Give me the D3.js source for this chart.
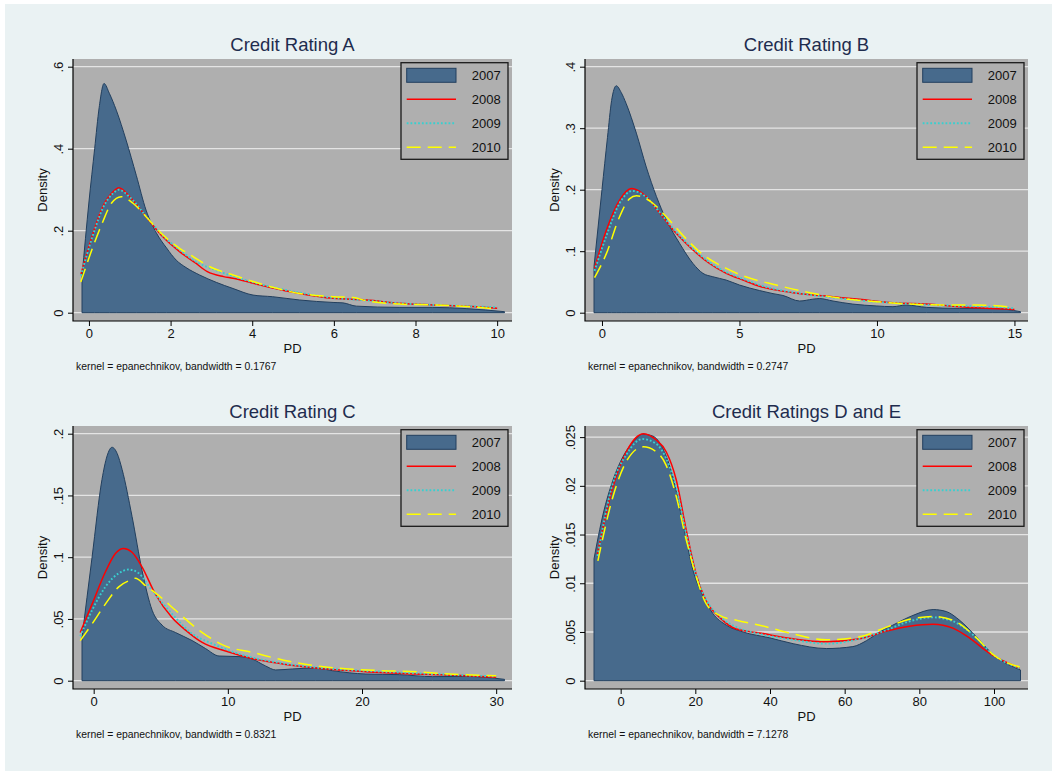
<!DOCTYPE html>
<html>
<head>
<meta charset="utf-8">
<script src="https://cdn.jsdelivr.net/npm/d3@7"></script>
<style>
html, body { margin: 0; padding: 0; background: #fff; }
svg { display: block; }
text { font-family: "Liberation Sans", Arial, Helvetica, sans-serif; }
</style>
</head>
<body>
<div id="chart"></div>
<script>
// Kernel density estimates of PD: [PD, density]
const YEARS = ["2007", "2008", "2009", "2010"];

const TITLES = ["Credit Rating A", "Credit Rating B", "Credit Rating C", "Credit Ratings D and E"];
const NOTES = [
  "kernel = epanechnikov, bandwidth = 0.1767",
  "kernel = epanechnikov, bandwidth = 0.2747",
  "kernel = epanechnikov, bandwidth = 0.8321",
  "kernel = epanechnikov, bandwidth = 7.1278",
];

const X_TICKS_A = [0, 2, 4, 6, 8, 10];
const X_TICKS_B = [0, 5, 10, 15];
const X_TICKS_C = [0, 10, 20, 30];
const X_TICKS_D = [0, 20, 40, 60, 80, 100];

const Y_TICKS_A = [0, 0.2, 0.4, 0.6];
const Y_LABELS_A = ["0", ".2", ".4", ".6"];
const Y_TICKS_B = [0, 0.1, 0.2, 0.3, 0.4];
const Y_LABELS_B = ["0", ".1", ".2", ".3", ".4"];
const Y_TICKS_C = [0, 0.05, 0.1, 0.15, 0.2];
const Y_LABELS_C = ["0", ".05", ".1", ".15", ".2"];
const Y_TICKS_D = [0, 0.005, 0.01, 0.015, 0.02, 0.025];
const Y_LABELS_D = ["0", ".005", ".01", ".015", ".02", ".025"];

const A2007 = [[-0.17,0.088],[0,0.27],[0.14,0.40],[0.25,0.50],[0.37,0.559],[0.5,0.535],[0.67,0.494],[0.91,0.421],[1.16,0.335],[1.4,0.25],[1.65,0.195],[1.9,0.158],[2.14,0.128],[2.38,0.11],[2.71,0.092],[3.12,0.074],[3.53,0.059],[4.02,0.043],[4.5,0.039],[5.16,0.031],[5.98,0.025],[6.22,0.024],[6.55,0.016],[7.6,0.013],[8.42,0.013],[9.24,0.01],[10.18,0.0025]];
const A2008 = [[-0.2,0.092],[0.1,0.194],[0.34,0.259],[0.59,0.295],[0.73,0.305],[1.0,0.283],[1.4,0.234],[1.81,0.185],[2.22,0.149],[2.6,0.122],[2.9,0.1],[3.3,0.088],[3.53,0.084],[4.02,0.072],[4.5,0.06],[5.16,0.047],[5.98,0.035],[6.8,0.031],[7.6,0.023],[8.42,0.019],[9.24,0.016],[10,0.011]];
const A2009 = [[-0.2,0.09],[0.1,0.19],[0.34,0.255],[0.6,0.292],[0.73,0.3],[1.0,0.282],[1.4,0.235],[1.81,0.188],[2.22,0.153],[2.63,0.124],[3.1,0.104],[3.53,0.089],[4.02,0.074],[4.5,0.062],[5.16,0.049],[5.98,0.036],[6.8,0.03],[7.6,0.023],[8.42,0.019],[9.24,0.016],[10,0.013]];
const A2010 = [[-0.2,0.075],[0.1,0.161],[0.34,0.222],[0.55,0.267],[0.79,0.283],[1.08,0.267],[1.4,0.234],[1.81,0.19],[2.22,0.157],[2.55,0.137],[2.96,0.112],[3.53,0.092],[4.02,0.076],[4.5,0.062],[5.16,0.047],[5.98,0.039],[6.47,0.037],[6.8,0.029],[7.6,0.021],[8.42,0.019],[9.24,0.015],[10,0.009]];

const B2007 = [[-0.29,0.075],[0,0.2],[0.2,0.285],[0.35,0.345],[0.52,0.369],[0.7,0.358],[0.88,0.34],[1.25,0.292],[1.61,0.237],[1.98,0.189],[2.34,0.151],[2.82,0.113],[3.31,0.08],[3.67,0.064],[4.03,0.0585],[4.52,0.053],[5.0,0.045],[5.73,0.036],[6.22,0.031],[6.58,0.028],[7.19,0.019],[7.67,0.022],[7.91,0.023],[8.4,0.019],[9.12,0.014],[9.97,0.011],[10.58,0.0098],[11.06,0.0125],[11.8,0.0087],[13,0.007],[14.21,0.007],[15.22,0.0016]];
const B2008 = [[-0.27,0.072],[0.16,0.134],[0.64,0.183],[1.07,0.202],[1.61,0.189],[2.1,0.162],[2.7,0.129],[3.31,0.102],[3.91,0.08],[4.52,0.064],[5.13,0.053],[5.73,0.043],[6.94,0.0325],[8.15,0.027],[9.37,0.0217],[10.58,0.016],[11.8,0.014],[13,0.0098],[15,0.0054]];
const B2009 = [[-0.27,0.068],[0.16,0.125],[0.64,0.178],[1.1,0.198],[1.61,0.188],[2.1,0.163],[2.7,0.131],[3.31,0.104],[3.91,0.082],[4.52,0.066],[5.13,0.055],[5.73,0.045],[6.94,0.033],[8.15,0.026],[9.37,0.02],[10.58,0.016],[11.8,0.013],[13,0.011],[14.2,0.0095],[15,0.007]];
const B2010 = [[-0.27,0.057],[0.16,0.096],[0.64,0.156],[1.0,0.185],[1.25,0.19],[1.85,0.178],[2.34,0.156],[2.94,0.126],[3.55,0.099],[4.52,0.072],[5.13,0.06],[6.34,0.045],[7.55,0.0325],[8.76,0.023],[9.97,0.018],[11.18,0.014],[12.4,0.0125],[13.6,0.0125],[15,0.0087]];

const C2007 = [[-0.87,0.035],[-0.12,0.1],[0.62,0.163],[1.0,0.182],[1.37,0.189],[1.75,0.184],[2.12,0.171],[2.86,0.133],[3.61,0.089],[4.36,0.057],[5.1,0.045],[6.1,0.039],[7.34,0.0325],[8.34,0.026],[9.34,0.02],[10.83,0.0195],[11.8,0.0176],[12.8,0.012],[13.57,0.0087],[14.8,0.0095],[16.55,0.0103],[17.8,0.0081],[20.29,0.0054],[22.78,0.0049],[25.27,0.0033],[27.76,0.0035],[30.62,0.0011]];
const C2008 = [[-1.0,0.039],[-0.12,0.062],[0.87,0.088],[1.62,0.103],[2.24,0.107],[2.86,0.104],[3.61,0.092],[4.6,0.07],[5.85,0.051],[6.85,0.041],[8.09,0.031],[9.83,0.024],[11.8,0.018],[14.07,0.0136],[16.55,0.0103],[20.29,0.0073],[24.02,0.0054],[27.76,0.004],[30,0.0027]];
const C2009 = [[-1.0,0.036],[-0.12,0.057],[0.87,0.076],[1.87,0.087],[2.61,0.09],[3.36,0.087],[4.36,0.073],[5.85,0.054],[7.34,0.038],[8.84,0.03],[10.83,0.0217],[14.07,0.014],[17.8,0.0095],[21.5,0.0073],[25.27,0.0054],[30,0.0035]];
const C2010 = [[-1.0,0.0325],[-0.12,0.046],[0.87,0.062],[1.87,0.076],[2.86,0.082],[3.11,0.083],[3.86,0.077],[4.85,0.069],[6.1,0.057],[7.84,0.041],[9.83,0.028],[11.8,0.023],[14.07,0.0168],[16.55,0.012],[19.04,0.0095],[21.53,0.0081],[24.02,0.0073],[26.51,0.0054],[30,0.004]];

const D2007 = [[-7.14,0.0125],[-4.7,0.0171],[-2.05,0.0206],[0.63,0.023],[3.3,0.0245],[5.98,0.0253],[8.66,0.0251],[11.34,0.0238],[14.0,0.0209],[16.7,0.0161],[19.4,0.0113],[22.05,0.0087],[24.7,0.0069],[28.3,0.0057],[32.8,0.005],[39.9,0.0044],[46.2,0.0038],[55.1,0.0033],[62.2,0.0035],[65.8,0.0041],[69.4,0.005],[72.9,0.0057],[78.3,0.0067],[83.7,0.0073],[87.2,0.0071],[90.8,0.0062],[95.3,0.0045],[99.7,0.0027],[107.1,0.0011]];
const D2008 = [[-6.25,0.013],[-2.05,0.0199],[1.52,0.0235],[6.16,0.02535],[9.55,0.0247],[12.2,0.0235],[14.9,0.0206],[17.6,0.0154],[20.3,0.0108],[22.9,0.0082],[26.5,0.0065],[31,0.0053],[37.2,0.0049],[46.2,0.0043],[55.1,0.004],[64,0.0043],[71.2,0.0051],[77.4,0.0056],[83.7,0.0058],[89,0.0054],[92.6,0.0046],[99.7,0.0026],[106.9,0.0013]];
const D2009 = [[-6.2,0.0128],[-2.05,0.0203],[1.52,0.0232],[5.8,0.0248],[9.55,0.0243],[12.2,0.0228],[14.9,0.0198],[17.6,0.015],[20.3,0.0107],[22.9,0.0083],[26.5,0.0066],[31,0.0055],[37.2,0.0048],[46.2,0.0042],[55.1,0.0038],[64,0.0043],[71.2,0.0052],[77.4,0.0061],[83.7,0.0065],[89,0.0061],[95.3,0.0044],[99.7,0.0027],[106.9,0.0013]];
const D2010 = [[-6.1,0.0123],[-2.05,0.0189],[1.52,0.0225],[6,0.024],[9.55,0.0235],[12.2,0.0221],[14.9,0.0189],[17.6,0.0144],[20.3,0.0106],[22.9,0.0079],[26.5,0.0067],[31,0.0062],[37.2,0.0057],[46.2,0.0048],[55.1,0.0042],[64,0.0045],[71.2,0.0055],[77.4,0.0063],[83.7,0.0066],[89,0.0062],[95.3,0.0044],[99.7,0.0027],[106.9,0.0014]];

const PANELS = [
  { title: TITLES[0], note: NOTES[0], xTicks: X_TICKS_A, yTicks: Y_TICKS_A, yLabels: Y_LABELS_A, series: [A2007, A2008, A2009, A2010] },
  { title: TITLES[1], note: NOTES[1], xTicks: X_TICKS_B, yTicks: Y_TICKS_B, yLabels: Y_LABELS_B, series: [B2007, B2008, B2009, B2010] },
  { title: TITLES[2], note: NOTES[2], xTicks: X_TICKS_C, yTicks: Y_TICKS_C, yLabels: Y_LABELS_C, series: [C2007, C2008, C2009, C2010] },
  { title: TITLES[3], note: NOTES[3], xTicks: X_TICKS_D, yTicks: Y_TICKS_D, yLabels: Y_LABELS_D, series: [D2007, D2008, D2009, D2010] },
];

const FILL_2007 = "#476a8c";
const EDGE_2007 = "#223f5e";
const LINE_STYLE = [
  null,
  { stroke: "#ff0000", dash: null, width: 1.5 },
  { stroke: "#38d0d0", dash: "1.8,2", width: 1.9 },
  { stroke: "#ffff00", dash: "14,7", width: 1.5 },
];

const W = 1052, H = 771;
// plot boxes (Stata plot regions), column/row geometry
const COLS = [{ left: 73, right: 512 }, { left: 585, right: 1028 }];
const ROWS = [{ top: 59, bottom: 321 }, { top: 426, bottom: 689 }];

const svg = d3.select("#chart").append("svg")
  .attr("width", W).attr("height", H)
  .attr("viewBox", `0 0 ${W} ${H}`);

svg.append("rect").attr("x", 5).attr("y", 4).attr("width", W - 5).attr("height", H - 4)
  .attr("fill", "#eaf2f3");

function drawPanel(p, box) {
  const g = svg.append("g");
  const xExt = d3.extent(p.series[0], (d) => d[0]);
  const x = d3.scaleLinear()
    .domain([Math.min(xExt[0], p.xTicks[0]), Math.max(xExt[1], p.xTicks[p.xTicks.length - 1])])
    .range([box.left + 9, box.right - 7.5]);
  const yTop = Math.max(d3.max(p.series.flat(), (d) => d[1]), p.yTicks[p.yTicks.length - 1]);
  const y = d3.scaleLinear().domain([0, yTop]).range([box.bottom - 8.3, box.top + 7.7]);

  g.append("rect")
    .attr("x", box.left).attr("y", box.top)
    .attr("width", box.right - box.left).attr("height", box.bottom - box.top)
    .attr("fill", "#afafaf");

  g.append("g").selectAll("line").data(p.yTicks).join("line")
    .attr("x1", box.left).attr("x2", box.right)
    .attr("y1", (d) => y(d)).attr("y2", (d) => y(d))
    .attr("stroke", "#e4e4e4").attr("stroke-width", 1.3);

  const area = d3.area().x((d) => x(d[0])).y0(y(0)).y1((d) => y(d[1])).curve(d3.curveMonotoneX);
  g.append("path").datum(p.series[0]).attr("d", area)
    .attr("fill", FILL_2007).attr("stroke", EDGE_2007).attr("stroke-width", 1);

  const line = d3.line().x((d) => x(d[0])).y((d) => y(d[1])).curve(d3.curveMonotoneX);
  p.series.slice(1).forEach((s, i) => {
    const st = LINE_STYLE[i + 1];
    g.append("path").datum(s).attr("d", line)
      .attr("fill", "none").attr("stroke", st.stroke).attr("stroke-width", st.width)
      .attr("stroke-dasharray", st.dash);
  });

  // axes
  const xAxis = g.append("g").attr("transform", `translate(0,${box.bottom})`)
    .call(d3.axisBottom(x).tickValues(p.xTicks).tickSize(5).tickPadding(3).tickFormat(d3.format("d")));
  xAxis.select(".domain").remove();
  xAxis.selectAll("text").attr("font-size", 13).attr("fill", "#111").attr("dy", "0.71em");

  const yAxis = g.append("g").attr("transform", `translate(${box.left},0)`)
    .call(d3.axisLeft(y).tickValues(p.yTicks).tickSize(5).tickFormat((d, i) => p.yLabels[i]));
  yAxis.select(".domain").remove();
  yAxis.selectAll("text")
    .attr("x", 0).attr("y", -10.5).attr("dy", null)
    .attr("transform", "rotate(-90)")
    .attr("text-anchor", "middle")
    .attr("font-size", 13).attr("fill", "#111");

  g.append("path")
    .attr("d", `M${box.left},${box.top}V${box.bottom}H${box.right}`)
    .attr("fill", "none").attr("stroke", "#000").attr("stroke-width", 1.2);

  const cx = (box.left + box.right) / 2;
  g.append("text").attr("x", cx).attr("y", box.top - 8.5)
    .attr("text-anchor", "middle").attr("font-size", 18.5).attr("fill", "#1e2c4e")
    .text(p.title);
  g.append("text").attr("x", cx).attr("y", box.bottom + 31.5)
    .attr("text-anchor", "middle").attr("font-size", 13).attr("fill", "#111")
    .text("PD");
  g.append("text")
    .attr("transform", `translate(${box.left - 26},${(box.top + box.bottom) / 2}) rotate(-90)`)
    .attr("text-anchor", "middle").attr("font-size", 13).attr("fill", "#111")
    .text("Density");
  g.append("text").attr("x", box.left + 3).attr("y", box.bottom + 48.5)
    .attr("font-size", 10.4).attr("fill", "#111")
    .text(p.note);

  // legend
  const lx = box.right - 111, ly = box.top + 3.7;
  const lg = g.append("g").attr("transform", `translate(${lx},${ly})`);
  lg.append("rect").attr("width", 107).attr("height", 96.6)
    .attr("fill", "#afafaf").attr("stroke", "#1a1a1a").attr("stroke-width", 1.3);
  YEARS.forEach((yr, i) => {
    const cy = 12.6 + 24 * i;
    if (i === 0) {
      lg.append("rect").attr("x", 5.7).attr("y", cy - 7).attr("width", 49.3).attr("height", 14)
        .attr("fill", FILL_2007).attr("stroke", EDGE_2007).attr("stroke-width", 1);
    } else {
      const st = LINE_STYLE[i];
      lg.append("line").attr("x1", 5.7).attr("x2", 55).attr("y1", cy).attr("y2", cy)
        .attr("stroke", st.stroke).attr("stroke-width", st.width)
        .attr("stroke-dasharray", st.dash);
    }
    lg.append("text").attr("x", 70.7).attr("y", cy + 4.6)
      .attr("font-size", 13).attr("fill", "#111").text(yr);
  });
}

PANELS.forEach((p, i) => drawPanel(p, { ...COLS[i % 2], ...ROWS[Math.floor(i / 2)] }));
</script>
</body>
</html>
